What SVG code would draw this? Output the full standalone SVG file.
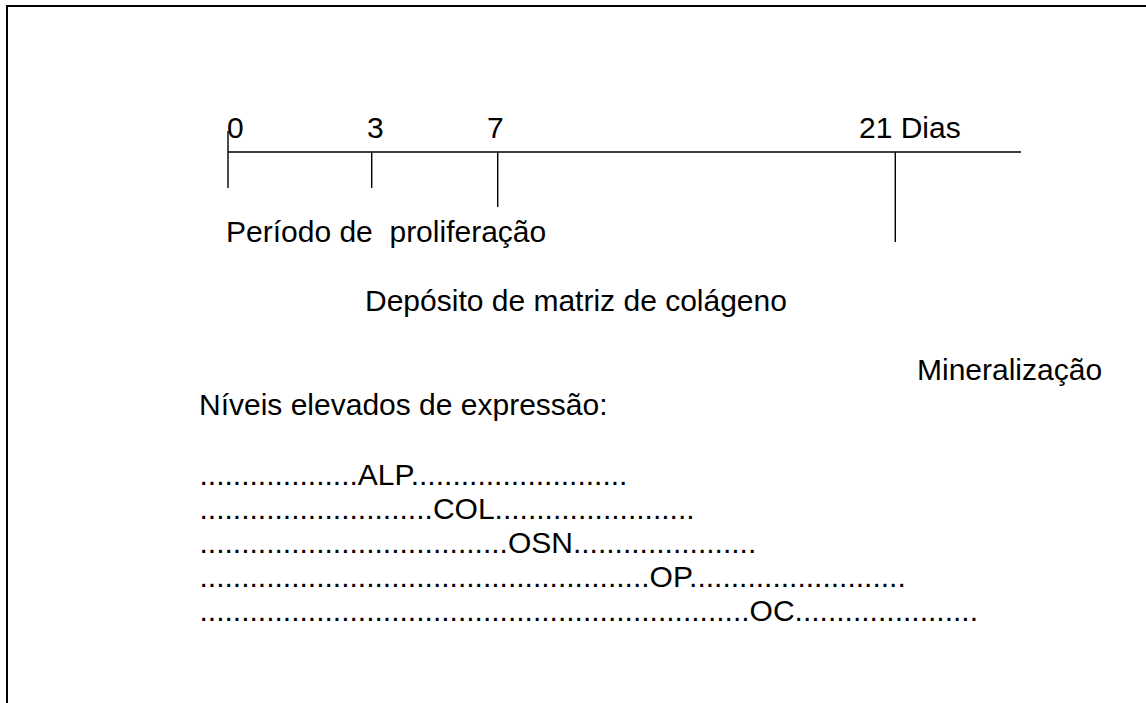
<svg xmlns="http://www.w3.org/2000/svg" width="1146" height="703" viewBox="0 0 1146 703">
<style>
.t{font-family:"Liberation Sans",Arial,sans-serif;font-size:30px;fill:#000}
.ln{stroke:#000;stroke-width:1.4;fill:none}
.bd{stroke:#000;stroke-width:2;fill:none}
</style>
<rect x="0" y="0" width="1146" height="703" fill="#fff"/>
<g id="frame">
<path class="bd" d="M7 703 V6 H1146"/>
</g>
<g id="connectors">
<line class="ln" x1="228" y1="152" x2="1021" y2="152"/>
<line class="ln" x1="228" y1="131" x2="228" y2="188"/>
<line class="ln" x1="371.7" y1="152" x2="371.7" y2="188"/>
<line class="ln" x1="497.7" y1="152" x2="497.7" y2="207"/>
<line class="ln" x1="895.3" y1="152" x2="895.3" y2="242"/>
</g>
<g id="axis-labels">
<text class="t" x="227" y="138">0</text>
<text class="t" x="367" y="138">3</text>
<text class="t" x="487" y="138">7</text>
<text class="t" x="859" y="138">21 Dias</text>
</g>
<g id="phases">
<text class="t" x="226" y="241.5" xml:space="preserve">Período de  proliferação</text>
<text class="t" x="365" y="310.5">Depósito de matriz de colágeno</text>
<text class="t" x="917" y="380">Mineralização</text>
</g>
<g id="expression">
<text class="t" x="199" y="415">Níveis elevados de expressão:</text>
<text class="t" x="199.5" y="485">...................ALP..........................</text>
<text class="t" x="199.5" y="519">............................COL........................</text>
<text class="t" x="199.5" y="553">.....................................OSN......................</text>
<text class="t" x="199.5" y="587">......................................................OP..........................</text>
<text class="t" x="199.5" y="621">..................................................................OC......................</text>
</g>
</svg>
